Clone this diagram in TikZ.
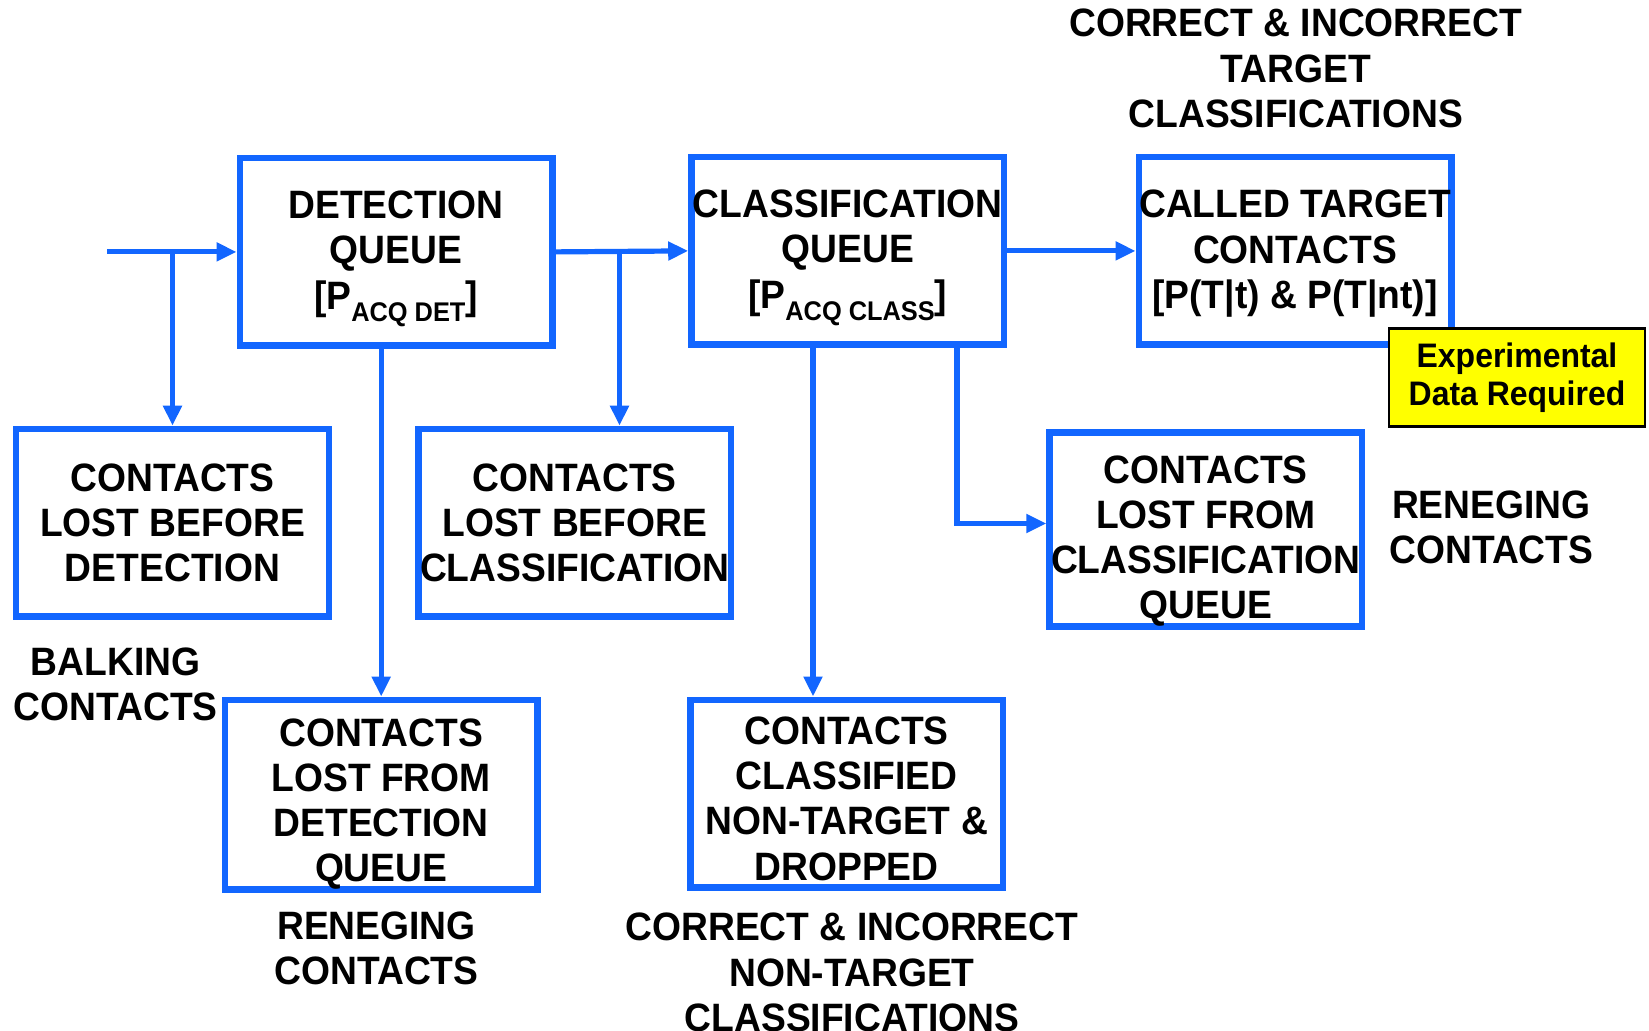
\documentclass[tikz,border=0pt]{standalone}
\usepackage{fontspec}
\setmainfont{Liberation Sans}[FakeStretch=0.94]
\usetikzlibrary{arrows.meta,calc}
\definecolor{flowblue}{RGB}{18,102,255}
\definecolor{noteyellow}{RGB}{255,255,0}
\newcommand\acqsub[1]{\raisebox{-0.32em}{\fontsize{13.5}{13.5}\selectfont #1}}
% extra room above the first line, pushes a box's text block down by half of #1
\newcommand\topgap[1]{\rule{0pt}{\dimexpr 14.7pt+#1\relax}}
\begin{document}
\begin{tikzpicture}[x=0.5pt,y=-0.5pt,
  every node/.style={font=\bfseries\fontsize{19.8}{22.6}\selectfont, align=center, text=black},
  qbox/.style={draw=flowblue, line width=3.2pt, fill=white, minimum width=156.3pt, minimum height=93.8pt, inner sep=0pt},
  note/.style={draw=black, line width=1.1pt, fill=noteyellow, minimum width=128pt, minimum height=49pt, inner sep=0pt,
    font=\bfseries\fontsize{17}{19}\selectfont},
  lbl/.style={inner sep=0pt},
  flow/.style={draw=flowblue, line width=2.6pt, -{Triangle[length=10pt,width=9pt]}}]
\useasboundingbox (0,0) rectangle (1649,1031);

% queue and outcome boxes
\node[qbox] (det) at (396,251.9) {\topgap{6.3pt}DETECTION\\QUEUE\\{[}P\acqsub{ACQ DET}{]}};
\node[qbox] (cls) at (847.7,250.9) {\topgap{6.3pt}CLASSIFICATION\\QUEUE\\{[}P\acqsub{ACQ CLASS}{]}};
\node[qbox] (ctc) at (1295,250.9) {\topgap{2pt}CALLED TARGET\\CONTACTS\\{[}P(T|t) \& P(T|nt){]}};
\node[qbox] (lbd) at (172.5,522.7) {CONTACTS\\LOST BEFORE\\DETECTION};
\node[qbox] (lbc) at (574.8,522.7) {CONTACTS\\LOST BEFORE\\CLASSIFICATION};
\node[qbox] (lfc) at (1205.8,529.5) {\topgap{10.5pt}CONTACTS\\LOST FROM\\CLASSIFICATION\\QUEUE};
\node[qbox] (lfd) at (381.2,794.6) {\topgap{8.4pt}CONTACTS\\LOST FROM\\DETECTION\\QUEUE};
\node[qbox] (drp) at (846.6,793.5) {\topgap{4.2pt}CONTACTS\\CLASSIFIED\\NON-TARGET \&\\DROPPED};

% note box
\node[note] (exp) at (1517,377.6) {Experimental\\Data Required};

% free labels
\node[lbl] (ltop) at (1295.7,68.4) {CORRECT \& INCORRECT\\TARGET\\CLASSIFICATIONS};
\node[lbl] (lren1) at (1491.3,527) {RENEGING\\CONTACTS};
\node[lbl] (lbalk) at (115.7,684.6) {BALKING\\CONTACTS};
\node[lbl] (lren2) at (376.5,948.6) {RENEGING\\CONTACTS};
\node[lbl] (lbot) at (851.9,972.5) {CORRECT \& INCORRECT\\NON-TARGET\\CLASSIFICATIONS};

% connector anchor points
\coordinate (src) at (107.3,251.9);
\coordinate (b2) at ($(lbc.north)+(44.7,0)$);
\coordinate (b3) at ($(drp.north)+(-33.6,0)$);
\coordinate (b4) at ($(cls.south)+(109.3,0)$);
\coordinate (b4e) at ($(lfc.west)+(0,-6)$);

% connectors
\draw[flow] (src) -- (det.west);
\draw[flow] (lbd.north |- src) -- (lbd.north);
\draw[flow] (det.east) -- (cls.west);
\draw[flow] (b2 |- det.east) -- (b2);
\draw[flow] (cls.east) -- (ctc.west);
\draw[flow] (lfd.north |- det.south) -- (lfd.north);
\draw[flow] (b3 |- cls.south) -- (b3);
\draw[flow] (b4) -- (b4 |- b4e) -- (b4e);
\end{tikzpicture}
\end{document}
